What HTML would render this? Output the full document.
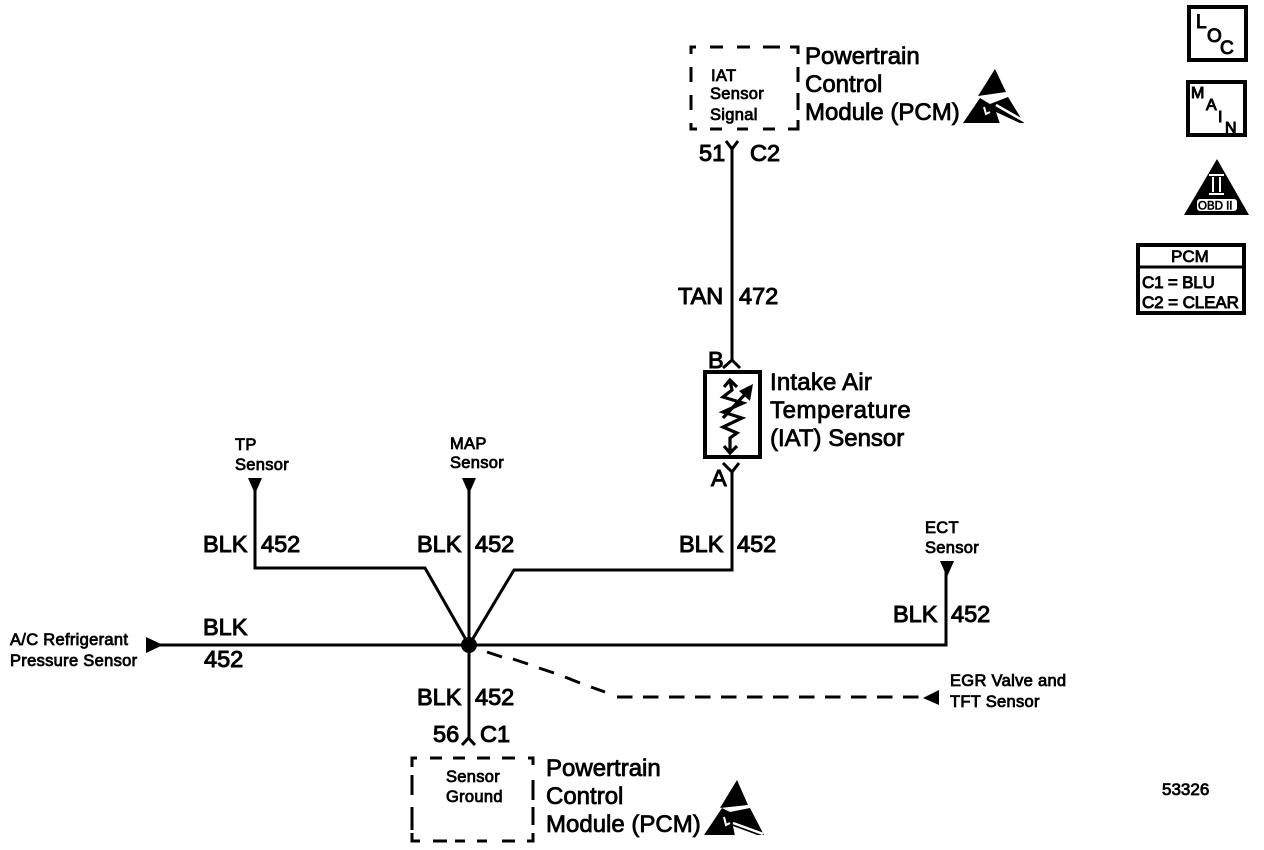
<!DOCTYPE html>
<html><head><meta charset="utf-8"><style>
html,body{margin:0;padding:0;background:#fff}
svg{display:block}
text{font-family:"Liberation Sans",sans-serif;fill:#000;stroke:#000}
.b{font-size:24px;stroke-width:.8px}
.m{font-size:23.5px;stroke-width:1px}
.s{font-size:16.5px;stroke-width:.8px;letter-spacing:.3px}
.w{fill:none;stroke:#000;stroke-width:3}
</style></head><body>
<svg width="1264" height="850" viewBox="0 0 1264 850" xmlns="http://www.w3.org/2000/svg">
<!-- top PCM -->
<path class="w" d="M691 54V47H696M710 47H723M737 47H750M763 47H780M790 47H798V54M691 67V82M691 95V110M691 123V129H697M710 129H722M737 129H748M763 129H775M788 129H798V120M798 110V93M798 82V67"/>
<text class="s" x="711" y="81">IAT</text>
<text class="s" x="710" y="99">Sensor</text>
<text class="s" x="710" y="120">Signal</text>
<text class="b" x="805" y="64">Powertrain</text>
<text class="b" x="805" y="92">Control</text>
<text class="b" x="805" y="120">Module (PCM)</text>
<path d="M995 69L1006 92L978 96Z" fill="#000"/>
<path d="M963 123L980 98L990 104L1008 97L1024 123Z" fill="#000"/>
<path d="M996 105L1024 121" stroke="#fff" stroke-width="2.500" fill="none"/>
<path d="M1000 124L1022 124L996 112Z" fill="#fff"/>
<path d="M984 107L986 114L990 112" stroke="#fff" stroke-width="2" fill="none"/>
<!-- top connector -->
<text class="m" x="699" y="161">51</text>
<text class="m" x="750" y="161">C2</text>
<path class="w" d="M732 146V361M726 141L732 149L738 141M723 368L732 360L740 368"/>
<text class="m" x="678" y="304">TAN</text>
<text class="m" x="739" y="304">472</text>
<text class="m" x="708" y="368">B</text>
<!-- sensor box -->
<rect x="705" y="372" width="55" height="85" fill="none" stroke="#000" stroke-width="4"/>
<path fill="none" stroke="#000" stroke-width="3.200" d="M730 381L732 390L723 397L743 403L723 412L742 418L723 427L737 433L730 438V452M724 387L730 380L737 387M724 446L730 453L737 446M723 418L748 391"/>
<path d="M753 384L739 391L750 401Z" fill="#000"/>
<text class="b" x="770" y="390" style="letter-spacing:.2px">Intake Air</text>
<text class="b" x="770" y="418" style="letter-spacing:.6px">Temperature</text>
<text class="b" x="770" y="446">(IAT) Sensor</text>
<text class="m" x="711" y="486">A</text>
<path class="w" d="M732 470V570H514L469 645L425 568H255V485M723 463L732 472L739 463"/>
<!-- main wires -->
<path class="w" d="M469 490V738M152 645H946V568"/>
<circle cx="469" cy="645" r="8" fill="#000"/>
<path d="M248 478H262L255 494Z" fill="#000"/>
<path d="M462 478H476L469 494Z" fill="#000"/>
<path d="M940 561H954L947 577Z" fill="#000"/>
<path d="M146 637L163 645L146 653Z" fill="#000"/>
<path d="M939 690V705L923 698Z" fill="#000"/>
<path class="w" d="M487 652L502 657M513 659L528 664M539 668L554 673M565 677L580 683M591 687L605 692"/>
<path class="w" d="M617 697H921" style="stroke-dasharray:15.500 10.500"/>
<!-- labels -->
<text class="s" x="235" y="450">TP</text>
<text class="s" x="235" y="470">Sensor</text>
<text class="s" x="450" y="449">MAP</text>
<text class="s" x="450" y="468">Sensor</text>
<text class="s" x="925" y="533">ECT</text>
<text class="s" x="925" y="553">Sensor</text>
<text class="s" x="10" y="645">A/C Refrigerant</text>
<text class="s" x="10" y="666">Pressure Sensor</text>
<text class="s" x="950" y="686">EGR Valve and</text>
<text class="s" x="950" y="707">TFT Sensor</text>
<text class="m" x="203" y="552">BLK</text><text class="m" x="261" y="552">452</text>
<text class="m" x="417" y="552">BLK</text><text class="m" x="475" y="552">452</text>
<text class="m" x="679" y="552">BLK</text><text class="m" x="737" y="552">452</text>
<text class="m" x="893" y="622">BLK</text><text class="m" x="951" y="622">452</text>
<text class="m" x="203" y="635">BLK</text><text class="m" x="204" y="667">452</text>
<text class="m" x="417" y="705">BLK</text><text class="m" x="475" y="705">452</text>
<text class="m" x="433" y="742">56</text><text class="m" x="480" y="742">C1</text>
<path class="w" d="M462 745L468.500 738L475 745"/>
<!-- bottom PCM -->
<path class="w" d="M412 767V758H417M430 758H442M453 758H465M477 758H490M502 758H515M528 758H533V765M412 775V795M412 807V830M412 833V841H420M433 841H447M455 841H465M477 841H487M502 841H515M527 841H533V833M533 825V807M533 800V780"/>
<text class="s" x="446" y="782">Sensor</text>
<text class="s" x="446" y="802">Ground</text>
<text class="b" x="546" y="776">Powertrain</text>
<text class="b" x="546" y="804">Control</text>
<text class="b" x="546" y="832">Module (PCM)</text>
<path d="M737 780L748 805L720 808Z" fill="#000"/>
<path d="M704 835L722 808L730 812L750 808L764 835Z" fill="#000"/>
<path d="M733 823L763 834" stroke="#fff" stroke-width="2.500" fill="none"/>
<path d="M735 836L760 836L733 826Z" fill="#fff"/>
<path d="M724 817L726 825L730 823" stroke="#fff" stroke-width="2" fill="none"/>
<!-- right column -->
<rect x="1189" y="7" width="57" height="53" fill="none" stroke="#000" stroke-width="4"/>
<text x="1196" y="28" style="font-size:19px;stroke-width:1px">L</text>
<text x="1207" y="42" style="font-size:19px;stroke-width:1px">O</text>
<text x="1220" y="54" style="font-size:19px;stroke-width:1px">C</text>
<rect x="1188" y="82" width="57" height="53" fill="none" stroke="#000" stroke-width="4"/>
<text x="1191" y="98" style="font-size:16px;stroke-width:1px">M</text>
<text x="1206" y="110" style="font-size:16px;stroke-width:1px">A</text>
<text x="1218" y="122" style="font-size:16px;stroke-width:1px">I</text>
<text x="1225" y="133" style="font-size:16px;stroke-width:1px">N</text>
<path d="M1217 159L1249 215H1184Z" fill="#000"/>
<rect x="1197" y="199" width="40" height="12" rx="3" fill="#fff"/>
<text x="1198" y="209.500" style="font-size:11.500px;stroke-width:.6px">OBD II</text>
<path d="M1209 175H1224M1213 177V192M1220 177V192M1209 194H1224" stroke="#fff" stroke-width="2" fill="none"/>
<rect x="1138" y="245" width="106" height="68" fill="none" stroke="#000" stroke-width="4"/>
<path d="M1138 267H1244" stroke="#000" stroke-width="3"/>
<text x="1171" y="262" style="font-size:17px;stroke-width:.8px">PCM</text>
<text x="1142" y="288" style="font-size:17px;stroke-width:.9px;letter-spacing:-.2px">C1 = BLU</text>
<text x="1142" y="308" style="font-size:17px;stroke-width:.9px;letter-spacing:-.1px">C2 = CLEAR</text>
<text x="1162" y="795" style="font-size:17px;stroke-width:.8px">53326</text>
</svg>
</body></html>
